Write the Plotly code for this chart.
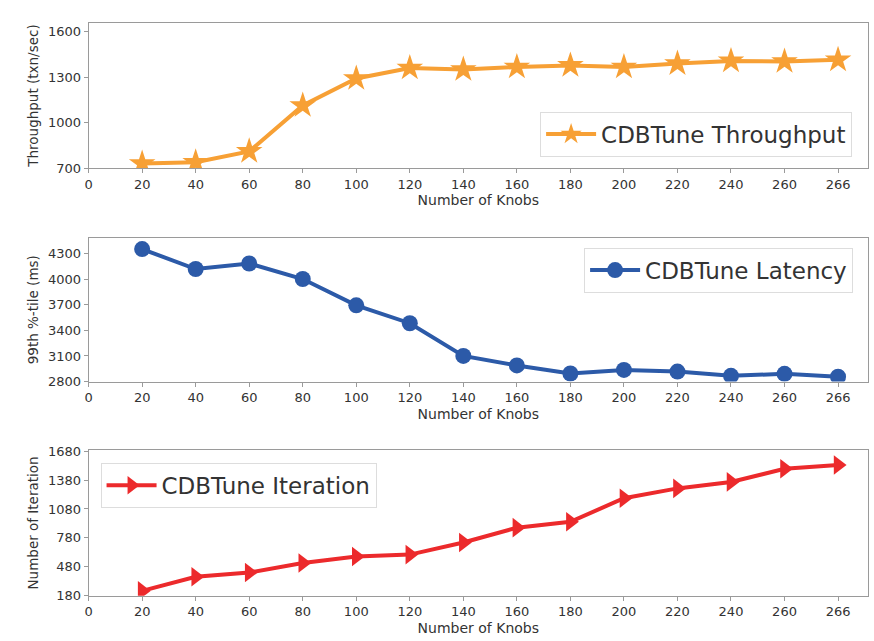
import plotly.graph_objects as go

knobs = ["20", "40", "60", "80", "100", "120", "140", "160", "180", "200", "220", "240", "260", "266"]
tick_labels = ["0", "20", "40", "60", "80", "100", "120", "140", "160", "180", "200", "220", "240", "260", "266"]

throughput = [732, 740, 812, 1114, 1292, 1361, 1351, 1368, 1378, 1368, 1390, 1408, 1404, 1415]
latency = [4350, 4117, 4182, 4000, 3692, 3483, 3100, 2989, 2895, 2937, 2917, 2868, 2891, 2857]
iteration = [231, 377, 421, 520, 587, 607, 733, 886, 947, 1191, 1293, 1360, 1496, 1536]

thr_ticks = [700, 1000, 1300, 1600]
lat_ticks = [2800, 3100, 3400, 3700, 4000, 4300]
it_ticks = [180, 480, 780, 1080, 1380, 1680]

ORANGE = "#f7a035"
BLUE = "#2c5aa8"
RED = "#ec2a2c"
FONT = "DejaVu Sans"
TXT = "#333333"
FRAME = "#9a9a9a"

W, H = 874, 641
fig = go.Figure()

fig.add_trace(go.Scatter(x=knobs, y=throughput, mode="lines+markers", name="CDBTune Throughput",
                         line=dict(color=ORANGE, width=4),
                         marker=dict(symbol="star", size=20, color=ORANGE),
                         xaxis="x", yaxis="y", legend="legend", showlegend=True))
fig.add_trace(go.Scatter(x=knobs, y=latency, mode="lines+markers", name="CDBTune Latency",
                         line=dict(color=BLUE, width=4),
                         marker=dict(symbol="circle", size=16, color=BLUE),
                         xaxis="x2", yaxis="y2", legend="legend2", showlegend=True))
fig.add_trace(go.Scatter(x=knobs, y=iteration, mode="lines+markers", name="CDBTune Iteration",
                         line=dict(color=RED, width=4),
                         marker=dict(symbol="triangle-right", size=17, color=RED),
                         xaxis="x3", yaxis="y3", legend="legend3", showlegend=True))

xd = [85 / W, 868 / W]
panels = [(17, 166), (237, 384), (454, 603)]
ydoms = [[1 - b / H, 1 - t / H] for t, b in panels]

def xax(anchor):
    return dict(domain=xd, anchor=anchor, type="category",
                categoryorder="array", categoryarray=tick_labels,
                tickmode="array", tickvals=tick_labels, ticktext=tick_labels,
                range=[0, 14.56], showline=True, mirror=True, linecolor=FRAME, linewidth=1,
                ticks="outside", ticklen=4, tickcolor=FRAME, showgrid=False, zeroline=False,
                tickfont=dict(family=FONT, size=13, color=TXT),
                title=dict(text="Number of Knobs", font=dict(family=FONT, size=14, color=TXT), standoff=4))

def yax(anchor, dom, rng, ticks, title):
    return dict(domain=dom, anchor=anchor, range=rng, tickvals=ticks,
                showline=True, mirror=True, linecolor=FRAME, linewidth=1,
                ticks="outside", ticklen=4, tickcolor=FRAME, showgrid=False, zeroline=False,
                tickfont=dict(family=FONT, size=13, color=TXT),
                title=dict(text=title, font=dict(family=FONT, size=13.5, color=TXT), standoff=6))

leg_common = dict(bgcolor="rgba(255,255,255,0.85)", bordercolor="#dddddd", borderwidth=1,
                  itemwidth=50, font=dict(family=FONT, size=23, color=TXT))

fig.update_layout(
    width=W, height=H, margin=dict(l=0, r=0, t=0, b=0),
    paper_bgcolor="white", plot_bgcolor="white", showlegend=True,
    font=dict(family=FONT, color=TXT),
    xaxis=xax("y"), yaxis=yax("x", ydoms[0], [700, 1660], thr_ticks, "Throughput (txn/sec)"),
    xaxis2=xax("y2"), yaxis2=yax("x2", ydoms[1], [2800, 4482], lat_ticks, "99th %-tile (ms)"),
    xaxis3=xax("y3"), yaxis3=yax("x3", ydoms[2], [180, 1690], it_ticks, "Number of Iteration"),
    legend=dict(x=852 / W, y=1 - 154 / H, xanchor="right", yanchor="bottom", **leg_common),
    legend2=dict(x=853 / W, y=1 - 247 / H, xanchor="right", yanchor="top", **leg_common),
    legend3=dict(x=97 / W, y=1 - 467 / H, xanchor="left", yanchor="top", **leg_common),
)

fig.write_html("out.html")
